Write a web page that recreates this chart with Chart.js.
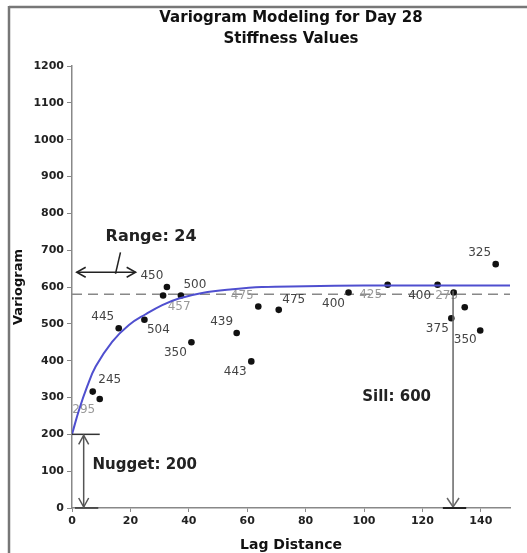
<!DOCTYPE html>
<html>
<head>
<meta charset="utf-8">
<script src="https://cdn.jsdelivr.net/npm/chart.js@4.4.1/dist/chart.umd.min.js"></script>
<style>
  html, body { margin: 0; padding: 0; background: #fff; }
  #wrap { width: 527px; height: 553px; }
</style>
</head>
<body>
<div id="wrap"><canvas id="chart" width="527" height="553"></canvas></div>
<script>
// experimental variogram: lag distance, semivariance, number of pairs
const lagX = [7.1, 9.5, 16.0, 24.8, 31.2, 32.5, 37.3, 40.9, 56.4, 61.4, 63.8, 70.8, 94.7, 108.1, 125.2, 129.9, 130.7, 134.5, 139.8, 145.1]
const gammaY = [316, 296, 488, 511, 577, 600, 577, 450, 475, 398, 547, 538, 585, 606, 606, 515, 585, 545, 482, 662]
const pairCounts = ['245', '295', '445', '504', '457', '450', '500', '350', '439', '443', '475', '475', '400', '425', '400', '375', '275', '', '350', '325']

// fitted model
const modelX = [0, 2.4, 5.2, 8.1, 13.8, 19.5, 25.2, 30.9, 36.6, 44.6, 55, 65, 80, 100, 120, 150]
const modelY = [200, 266, 330, 384, 452, 497, 526, 551, 569, 584, 594, 600, 602, 604, 604, 604]

const nugget = 200
const sill = 600
const range = 24
const refLevel = 580   // dashed line

// label placement next to each dot (px)
const labelOffsets = [[17,-12],[-16,11],[-16,-11],[14,10],[16,11],[-15,-11],[14,-11],[-16,11],[-15,-11],[-16,10],
                      [-16,-11],[15,-10],[-15,11],[-17,10],[-18,11],[-14,11],[-7,3],[0,0],[-15,9],[-16,-11]]
const fadedLabels = [1, 4, 10, 13, 16]

Chart.defaults.font.family = 'DejaVu Sans'

function head(ctx, x, y, dir, l, w){
  // open "V" arrow head with tip at x,y
  ctx.beginPath()
  if (dir == 'up'){ ctx.moveTo(x-w, y+l); ctx.lineTo(x, y); ctx.lineTo(x+w, y+l) }
  if (dir == 'down'){ ctx.moveTo(x-w, y-l); ctx.lineTo(x, y); ctx.lineTo(x+w, y-l) }
  if (dir == 'left'){ ctx.moveTo(x+l, y-w); ctx.lineTo(x, y); ctx.lineTo(x+l, y+w) }
  if (dir == 'right'){ ctx.moveTo(x-l, y-w); ctx.lineTo(x, y); ctx.lineTo(x-l, y+w) }
  ctx.stroke()
}

function line(ctx, x1, y1, x2, y2){
  ctx.beginPath(); ctx.moveTo(x1, y1); ctx.lineTo(x2, y2); ctx.stroke()
}

const extras = {
  id: 'extras',
  beforeDraw(chart){
    const ctx = chart.ctx
    ctx.save()
    ctx.fillStyle = '#fff'
    ctx.fillRect(0, 0, chart.width, chart.height)
    ctx.strokeStyle = '#777'
    ctx.lineWidth = 2.5
    line(ctx, 9, 7, chart.width, 7)
    line(ctx, 9, 6, 9, chart.height)
    ctx.restore()
  },
  beforeDatasetsDraw(chart){
    const ctx = chart.ctx, xs = chart.scales.x, ys = chart.scales.y
    ctx.save()
    // dashed reference line
    ctx.strokeStyle = '#888'
    ctx.lineWidth = 1.5
    ctx.setLineDash([10, 6])
    line(ctx, xs.left, ys.getPixelForValue(refLevel), xs.right, ys.getPixelForValue(refLevel))
    ctx.setLineDash([])
    // pair counts
    ctx.font = '12px DejaVu Sans'
    ctx.textAlign = 'center'
    ctx.textBaseline = 'middle'
    lagX.forEach((v, i) => {
      ctx.fillStyle = fadedLabels.includes(i) ? '#999' : '#444'
      ctx.fillText(pairCounts[i], xs.getPixelForValue(v) + labelOffsets[i][0], ys.getPixelForValue(gammaY[i]) + labelOffsets[i][1])
    })
    ctx.restore()
  },
  afterDatasetsDraw(chart){
    const ctx = chart.ctx, xs = chart.scales.x, ys = chart.scales.y
    const X = v => xs.getPixelForValue(v), Y = v => ys.getPixelForValue(v)
    ctx.save()
    ctx.lineWidth = 1.5

    // nugget
    ctx.strokeStyle = '#333'
    line(ctx, X(0), Y(nugget), X(9.5), Y(nugget))
    line(ctx, X(1), Y(0), X(9), Y(0))
    ctx.strokeStyle = '#555'
    line(ctx, X(4), Y(nugget) + 1, X(4), Y(0) - 1)
    head(ctx, X(4), Y(nugget) + 1, 'up', 9, 5)
    head(ctx, X(4), Y(0) - 1, 'down', 9, 5)

    // range
    ctx.strokeStyle = '#222'
    const ry = Y(640)
    line(ctx, X(1.6), ry, X(21.8), ry)
    head(ctx, X(1.6), ry, 'left', 9, 5)
    head(ctx, X(21.8), ry, 'right', 9, 5)
    line(ctx, X(16.6), Y(694), X(14.9), Y(636))

    // sill
    ctx.strokeStyle = '#666'
    line(ctx, X(130.5), Y(590), X(130.5), Y(0))
    head(ctx, X(130.5), Y(0) - 1, 'down', 9, 6)
    ctx.strokeStyle = '#222'
    ctx.lineWidth = 2
    line(ctx, X(127), Y(0), X(135), Y(0))

    ctx.fillStyle = '#222'
    ctx.textBaseline = 'middle'
    ctx.textAlign = 'left'
    ctx.font = 'bold 16px DejaVu Sans'
    ctx.fillText('Range: ' + range, X(11.5), Y(736))
    ctx.font = 'bold 15px DejaVu Sans'
    ctx.fillText('Nugget: ' + nugget, X(7), Y(117))
    ctx.fillText('Sill: ' + sill, X(99.4), Y(302))
    ctx.restore()
  }
}

const config = {
  type: 'scatter',
  data: {
    datasets: [{
      label: 'Model',
      data: modelX.map((x, i) => ({x: x, y: modelY[i]})),
      showLine: true,
      borderColor: '#4f4fcf',
      borderWidth: 2,
      pointRadius: 0,
      tension: 0.4
    }, {
      label: 'Experimental',
      data: lagX.map((x, i) => ({x: x, y: gammaY[i]})),
      backgroundColor: '#111',
      borderColor: '#111',
      pointRadius: 3.3,
      borderWidth: 0
    }]
  },
  options: {
    responsive: false,
    animation: false,
    layout: {padding: {left: 0, right: 17, top: 0, bottom: 0}},
    plugins: {
      legend: {display: false},
      tooltip: {enabled: false},
      title: {
        display: true,
        fullSize: false,
        text: ['Variogram Modeling for Day 28', 'Stiffness Values'],
        color: '#111',
        font: {family: 'DejaVu Sans', size: 15, weight: 'bold', lineHeight: 1.4},
        padding: {top: 8, bottom: 16}
      }
    },
    scales: {
      x: {
        type: 'linear',
        min: 0,
        max: 150,
        afterFit: s => { s.height = 45 },
        afterBuildTicks: s => { s.ticks = s.ticks.filter(t => t.value <= 140) },
        ticks: {stepSize: 20, padding: 3, color: '#222', font: {size: 11, weight: 'bold'}},
        grid: {display: true, drawOnChartArea: false, tickLength: 4, color: '#888'},
        border: {display: true, color: '#888', width: 1.5},
        title: {
          display: true,
          text: 'Lag Distance',
          color: '#111',
          font: {size: 14, weight: 'bold', lineHeight: 1},
          padding: {top: 0, bottom: 1}
        }
      },
      y: {
        min: 0,
        max: 1200,
        afterFit: s => { s.width = 72 },
        ticks: {stepSize: 100, padding: 3, color: '#222', font: {size: 11, weight: 'bold'},
                callback: v => String(v)},
        grid: {display: true, drawOnChartArea: false, tickLength: 5, color: '#888'},
        border: {display: true, color: '#888', width: 1.5},
        title: {
          display: true,
          text: 'Variogram',
          color: '#111',
          font: {size: 13, weight: 'bold', lineHeight: 1},
          padding: {top: 12.5, bottom: 0}
        }
      }
    }
  },
  plugins: [extras]
}

new Chart(document.getElementById('chart'), config)
</script>
</body>
</html>
